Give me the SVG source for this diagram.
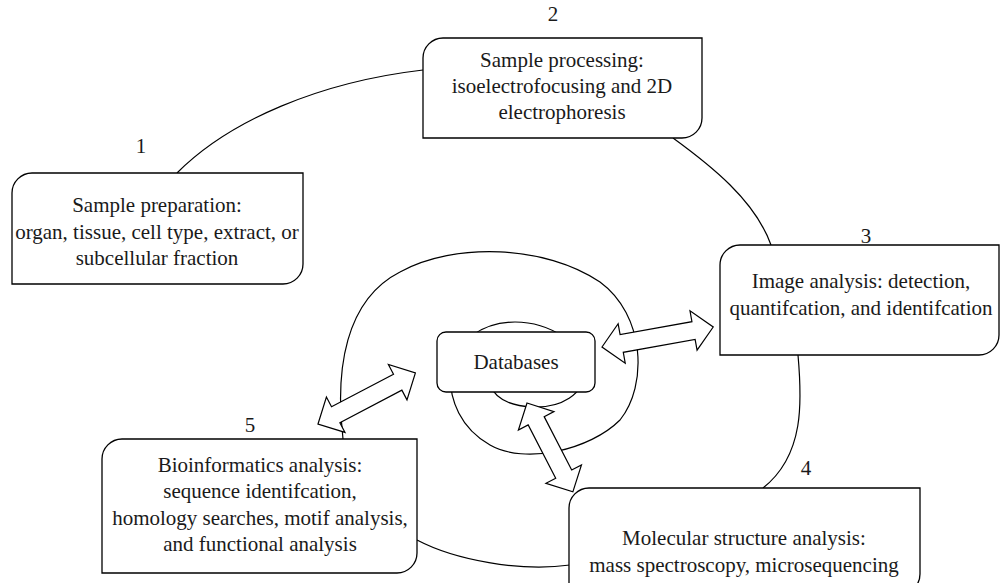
<svg xmlns="http://www.w3.org/2000/svg" width="1000" height="583" viewBox="0 0 1000 583">
<style>
  .box { fill: #ffffff; stroke: #000000; stroke-width: 1.3; }
  .conn { fill: none; stroke: #000000; stroke-width: 1.2; }
  .arrow { fill: #ffffff; stroke: #000000; stroke-width: 1.2; stroke-linejoin: miter; }
  text { font-family: "Liberation Serif", "Times New Roman", serif; font-size: 21px; fill: #1a1a1a; text-anchor: middle; }
</style>
<rect x="0" y="0" width="1000" height="583" fill="#ffffff"/>
<g id="connectors">
  <path class="conn" d="M177,173 C230,120 320,82 423,70"/>
  <path class="conn" d="M673,138 C710,165 755,200 771,245"/>
  <path class="conn" d="M798,355 C802,400 805,455 763,488"/>
  <path class="conn" d="M417,540 C455,560 520,572 570,565"/>
  <path class="conn" d="M343,439 C335,370 345,300 400,272 C455,242 545,245 600,282 C645,315 648,385 620,420 C590,450 525,465 490,445 C460,428 450,400 450,375 C452,340 485,322 515,322 C550,322 585,345 585,370 C585,395 560,408 533,407 C510,406 495,398 490,385"/>
</g>
<g id="node1">
  <path class="box" d="M32,173 H303 V264 A20,20 0 0 1 283,284 H12 V193 A20,20 0 0 1 32,173 Z"/>
  <text x="141" y="153">1</text>
  <text x="157" y="212">Sample preparation:</text>
  <text x="157" y="239">organ, tissue, cell type, extract, or</text>
  <text x="157" y="265">subcellular fraction</text>
</g>
<g id="node2">
  <path class="box" d="M443,38 H702 V118 A20,20 0 0 1 682,138 H423 V58 A20,20 0 0 1 443,38 Z"/>
  <text x="553" y="21">2</text>
  <text x="562" y="67">Sample processing:</text>
  <text x="562" y="93">isoelectrofocusing and 2D</text>
  <text x="562" y="119">electrophoresis</text>
</g>
<g id="node3">
  <path class="box" d="M740,245 H999 V335 A20,20 0 0 1 979,355 H720 V265 A20,20 0 0 1 740,245 Z"/>
  <text x="866" y="243">3</text>
  <text x="861" y="288">Image analysis: detection,</text>
  <text x="861" y="315">quantifcation, and identifcation</text>
</g>
<g id="node4">
  <path class="box" d="M589,488 H920 V574 A20,20 0 0 1 900,594 H569 V508 A20,20 0 0 1 589,488 Z"/>
  <text x="806" y="475">4</text>
  <text x="744" y="545">Molecular structure analysis:</text>
  <text x="744" y="572">mass spectroscopy, microsequencing</text>
</g>
<g id="node5">
  <path class="box" d="M122,439 H417 V553 A20,20 0 0 1 397,573 H102 V459 A20,20 0 0 1 122,439 Z"/>
  <text x="250" y="432">5</text>
  <text x="260" y="472">Bioinformatics analysis:</text>
  <text x="260" y="498">sequence identifcation,</text>
  <text x="260" y="525">homology searches, motif analysis,</text>
  <text x="260" y="551">and functional analysis</text>
</g>
<g id="databases">
  <rect class="box" x="437" y="332" width="158" height="60" rx="9" ry="9"/>
  <text x="516" y="369">Databases</text>
</g>
<g id="arrows">
  <polygon class="arrow" transform="translate(602,347) rotate(-10.2)" points="0,0 20,-20 20,-9 93,-9 93,-20 113,0 93,20 93,9 20,9 20,20"/>
  <polygon class="arrow" transform="translate(318,424) rotate(-27.7)" points="0,0 20,-20 20,-9 90,-9 90,-20 110,0 90,20 90,9 20,9 20,20"/>
  <polygon class="arrow" transform="translate(527,403) rotate(62.7)" points="0,0 20,-20 20,-9 80,-9 80,-20 100,0 80,20 80,9 20,9 20,20"/>
</g>
</svg>
